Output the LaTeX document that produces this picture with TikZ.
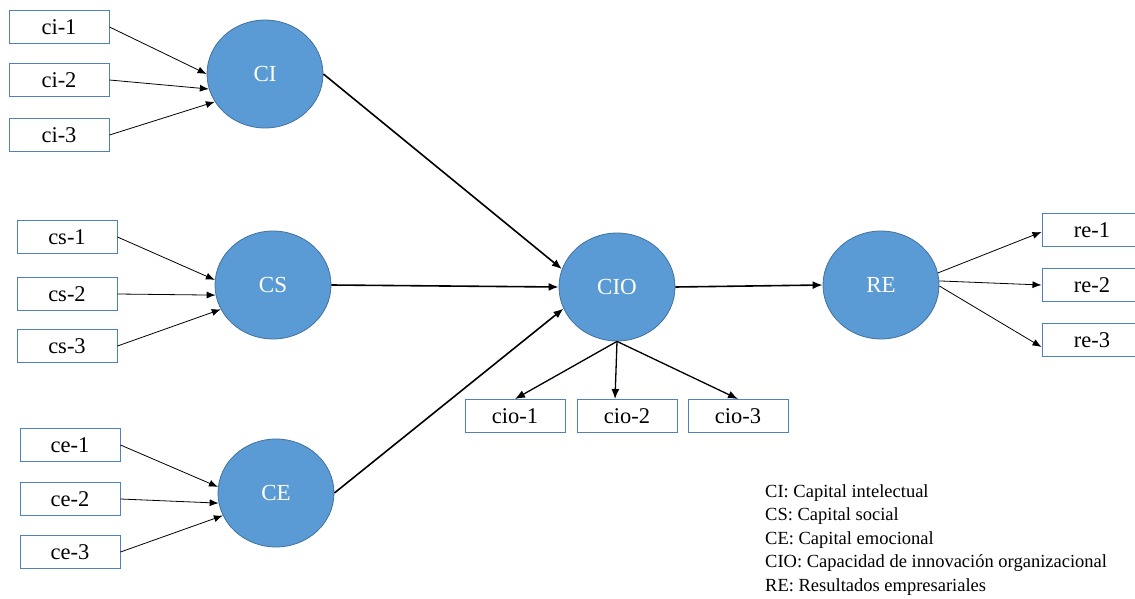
\documentclass[tikz,border=0pt]{standalone}
\usepackage{fontspec}
\setmainfont{Liberation Serif}
\usetikzlibrary{arrows.meta,shapes.geometric}
\definecolor{latentfill}{HTML}{5B9BD5}
\definecolor{latentline}{HTML}{41719C}
\definecolor{boxline}{HTML}{4F81BD}
\begin{document}
\begin{tikzpicture}[x=1pt,y=-1pt,
  indicator/.style={draw=boxline,line width=1pt,fill=white,minimum width=100pt,minimum height=33pt,inner sep=0pt,font=\fontsize{22.5}{22.5}\selectfont},
  latent/.style={ellipse,draw=latentline,line width=0.8pt,fill=latentfill,minimum width=116pt,minimum height=108pt,inner sep=0pt,text=white,font=\fontsize{23}{23}\selectfont},
  measure/.style={-{Latex[length=9pt,width=7pt]},line width=0.8pt,black},
  structpath/.style={-{Latex[length=10pt,width=8pt]},line width=1.6pt,black}]
\useasboundingbox (0,0) rectangle (1135,599);
% indicators of CI
\node[indicator] (ci1) at (59,27) {ci-1};
\node[indicator] (ci2) at (59,80) {ci-2};
\node[indicator] (ci3) at (59,135) {ci-3};
% indicators of CS
\node[indicator] (cs1) at (67,237) {cs-1};
\node[indicator] (cs2) at (67,294) {cs-2};
\node[indicator] (cs3) at (67,346) {cs-3};
% indicators of CE
\node[indicator] (ce1) at (70,445) {ce-1};
\node[indicator] (ce2) at (70,499) {ce-2};
\node[indicator] (ce3) at (70,552) {ce-3};
% indicators of CIO
\node[indicator] (cio1) at (515,416) {cio-1};
\node[indicator] (cio2) at (627,416) {cio-2};
\node[indicator] (cio3) at (738,416) {cio-3};
% indicators of RE
\node[indicator] (re1) at (1092,230) {re-1};
\node[indicator] (re2) at (1092,285) {re-2};
\node[indicator] (re3) at (1092,340) {re-3};
% latent constructs
\node[latent] (CI) at (265,74) {CI};
\node[latent] (CS) at (273,285) {CS};
\node[latent] (CE) at (276,493) {CE};
\node[latent] (CIO) at (617,287) {CIO};
\node[latent] (RE) at (881,285) {RE};
% measurement arrows
\draw[measure] (ci1.east) -- (CI.180);
\draw[measure] (ci2.east) -- (CI.195);
\draw[measure] (ci3.east) -- (CI.209);
\draw[measure] (cs1.east) -- (CS.175);
\draw[measure] (cs2.east) -- (CS.190);
\draw[measure] (cs3.east) -- (CS.205);
\draw[measure] (ce1.east) -- (CE.174);
\draw[measure] (ce2.east) -- (CE.190);
\draw[measure] (ce3.east) -- (CE.203);
\draw[measure] (RE.12) -- ([yshift=-2pt]re1.west);
\draw[measure] (RE.4) -- (re2.west);
\draw[measure] (RE.-1) -- ([yshift=-7pt]re3.west);
\draw[structpath,line width=1.3pt] (CIO.south) -- (cio1.north);
\draw[structpath,line width=1.3pt] (CIO.south) -- ([xshift=-12pt]cio2.north);
\draw[structpath,line width=1.3pt] (CIO.south) -- (cio3.north);
% structural paths
\draw[structpath] (CI.east) -- (CIO.162);
\draw[structpath] (CS.east) -- (CIO.180);
\draw[structpath] (CE.east) -- (CIO.202);
\draw[structpath] (CIO.east) -- (RE.west);
% legend
\node[anchor=north west,align=left,inner sep=0pt,font=\fontsize{18.5}{23.5}\selectfont] (legend) at (765,484)
  {CI: Capital intelectual\\CS: Capital social\\CE: Capital emocional\\CIO: Capacidad de innovación organizacional\\RE: Resultados empresariales};
\end{tikzpicture}
\end{document}
